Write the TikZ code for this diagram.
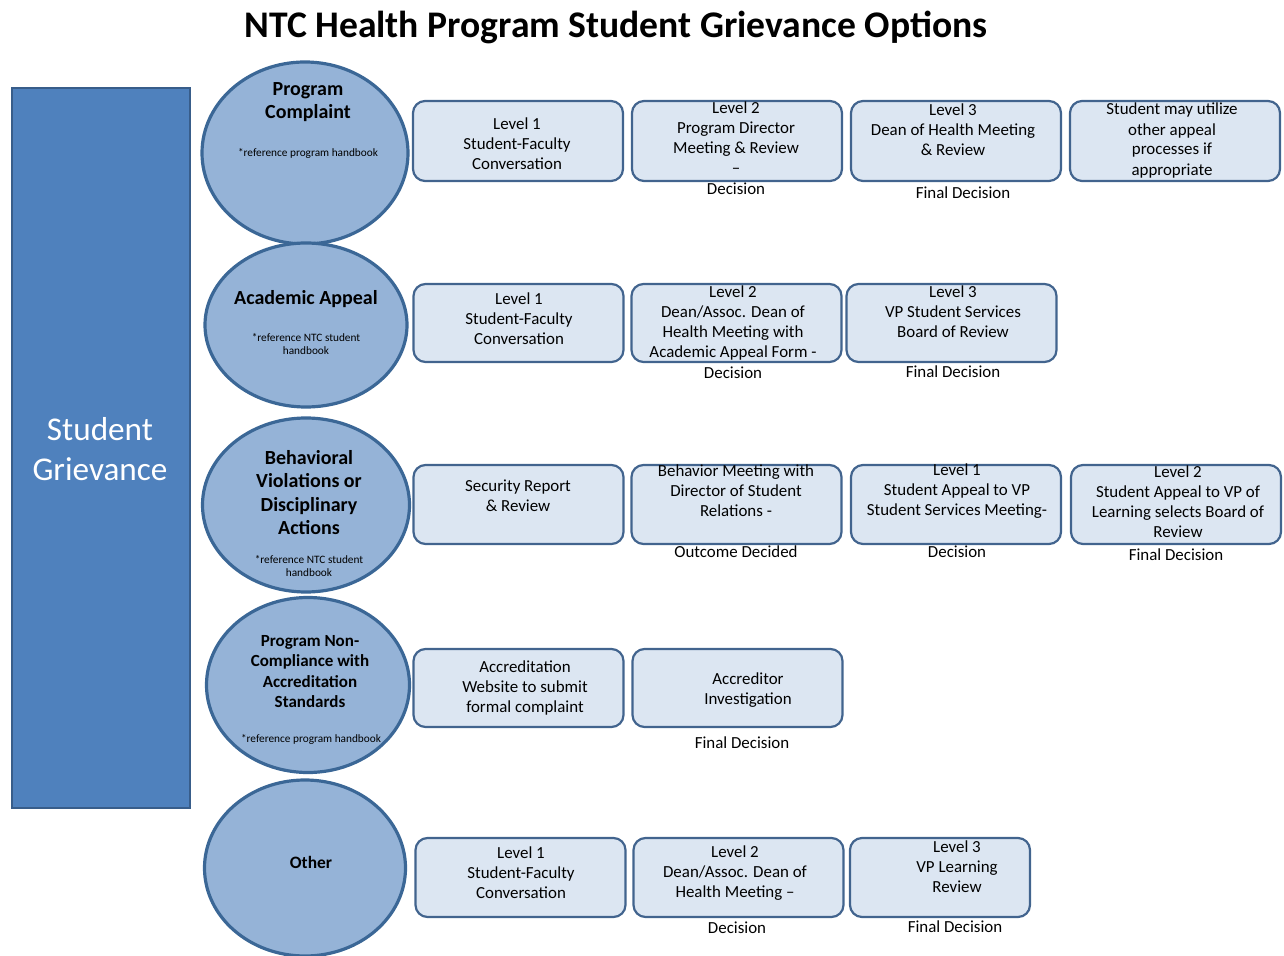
\documentclass[tikz,border=0pt]{standalone}
\usepackage{fontspec}
\setmainfont{Carlito}
\usetikzlibrary{shapes.geometric}
\definecolor{bigfill}{RGB}{79,129,189}
\definecolor{bigline}{RGB}{56,93,138}
\definecolor{circfill}{RGB}{149,179,215}
\definecolor{circline}{RGB}{59,103,150}
\definecolor{boxfill}{RGB}{220,230,242}
\definecolor{boxline}{RGB}{66,100,142}
\begin{document}
\begin{tikzpicture}[x=0.5pt,y=-0.5pt,
  circ/.style={ellipse, draw=circline, fill=circfill, line width=1.6pt, inner sep=0pt},
  stepbox/.style={draw=boxline, fill=boxfill, rounded corners=6pt, line width=1.1pt, inner sep=0pt, minimum width=105pt},
  txt/.style={align=center, inner sep=0pt, font=\fontsize{8.45}{10}\selectfont},
  ctitle/.style={align=center, inner sep=0pt, font=\fontsize{10}{11.5}\selectfont\bfseries},
  cref/.style={align=center, inner sep=0pt, font=\fontsize{5.65}{6.5}\selectfont},
  note/.style={inner sep=0pt, font=\fontsize{8.45}{10}\selectfont}]
\useasboundingbox (0,0) rectangle (1284,956);

% title
\node[inner sep=0pt, font=\fontsize{18.8}{22}\selectfont\bfseries] (title) at (616,27) {NTC Health Program Student Grievance Options};

% left bar
\node[draw=bigline, fill=bigfill, line width=0.9pt, minimum width=89pt, minimum height=360pt, inner sep=0pt] (sg) at (101,448) {};
\node[align=center, inner sep=0pt, text=white, font=\fontsize{16.6}{20}\selectfont] (sgt) at (100,449) {Student\\Grievance};

% circles
\node[circ, minimum width=103pt, minimum height=91pt] (c1) at (305,153) {};
\node[circ, minimum width=101pt, minimum height=82pt] (c2) at (306,325) {};
\node[circ, minimum width=103.5pt, minimum height=87pt] (c3) at (306,505) {};
\node[circ, minimum width=101.5pt, minimum height=87.5pt] (c4) at (308,685) {};
\node[circ, minimum width=100.5pt, minimum height=88pt] (c5) at (305,868) {};

\node[ctitle] (c1t) at (308,102.5) {Program\\Complaint};
\node[cref] (c1r) at (308,153) {*reference program handbook};
\node[ctitle] (c2t) at (306,299) {Academic Appeal};
\node[cref] (c2r) at (306,344.5) {*reference NTC student\\handbook};
\node[ctitle, font=\fontsize{10}{11.8}\selectfont\bfseries] (c3t) at (309,492.5) {Behavioral\\Violations or\\Disciplinary\\Actions};
\node[cref] (c3r) at (309,566.5) {*reference NTC student\\handbook};
\node[ctitle, font=\fontsize{8.5}{10.2}\selectfont\bfseries] (c4t) at (310,671.5) {Program Non-\\Compliance with\\Accreditation\\Standards};
\node[cref] (c4r) at (311,739) {*reference program handbook};
\node[ctitle, font=\fontsize{8.7}{10.2}\selectfont\bfseries] (c5t) at (311,862) {Other};

% row 1
\node[stepbox, minimum height=40pt] (b11) at (518,141) {};
\node[stepbox, minimum height=40pt] (b12) at (737,141) {};
\node[stepbox, minimum height=40pt] (b13) at (956,141) {};
\node[stepbox, minimum height=40pt] (b14) at (1175,141) {};
\node[txt] (t11) at (517,143.5) {Level 1\\Student-Faculty\\Conversation};
\node[txt] (t12) at (736,138) {Level 2\\Program Director\\Meeting \& Review\\–};
\node[note] (n12) at (736,189) {Decision};
\node[txt] (t13) at (953,130) {Level 3\\Dean of Health Meeting\\\& Review};
\node[note] (n13) at (963,193) {Final Decision};
\node[txt] (t14) at (1172,140.5) {Student may utilize\\other appeal\\processes if\\appropriate};

% row 2
\node[stepbox, minimum height=39pt] (b21) at (518.5,323) {};
\node[stepbox, minimum height=39pt] (b22) at (736.5,323) {};
\node[stepbox, minimum height=39pt] (b23) at (951.5,323) {};
\node[txt] (t21) at (519,319) {Level 1\\Student-Faculty\\Conversation};
\node[txt] (t22) at (733,322.5) {Level 2\\Dean/Assoc. Dean of\\Health Meeting with\\Academic Appeal Form -};
\node[note] (n22) at (733,373) {Decision};
\node[txt] (t23) at (953,312) {Level 3\\VP Student Services\\Board of Review};
\node[note] (n23) at (953,372) {Final Decision};

% row 3
\node[stepbox, minimum height=39.5pt] (b31) at (518.5,504.5) {};
\node[stepbox, minimum height=39.5pt] (b32) at (736.5,504.5) {};
\node[stepbox, minimum height=39.5pt] (b33) at (956,504.5) {};
\node[stepbox, minimum height=39.5pt] (b34) at (1176,504.5) {};
\node[txt] (t31) at (518,496) {Security Report\\\& Review};
\node[txt] (t32) at (736,491) {Behavior Meeting with\\Director of Student\\Relations -};
\node[note] (n32) at (736,552) {Outcome Decided};
\node[txt] (t33) at (957,491) {Level 1\\Student Appeal to VP\\Student Services Meeting-};
\node[note] (n33) at (957,552) {Decision};
\node[txt] (t34) at (1178,501.5) {Level 2\\Student Appeal to VP of\\Learning selects Board of\\Review};
\node[note] (n34) at (1176,555) {Final Decision};

% row 4
\node[stepbox, minimum height=39pt] (b41) at (518.5,688) {};
\node[stepbox, minimum height=39pt] (b42) at (737.5,688) {};
\node[txt] (t41) at (525,688) {Accreditation\\Website to submit\\formal complaint};
\node[txt] (t42) at (748,690) {Accreditor\\Investigation};
\node[note] (n42) at (742,743) {Final Decision};

% row 5
\node[stepbox, minimum height=39.5pt] (b51) at (520.5,877.5) {};
\node[stepbox, minimum height=39.5pt] (b52) at (738.5,877.5) {};
\node[stepbox, minimum height=39.5pt, minimum width=90pt] (b53) at (940,877.5) {};
\node[txt] (t51) at (521,873) {Level 1\\Student-Faculty\\Conversation};
\node[txt] (t52) at (735,873) {Level 2\\Dean/Assoc. Dean of\\Health Meeting –};
\node[note] (n52) at (737,928) {Decision};
\node[txt] (t53) at (957,867) {Level 3\\VP Learning\\Review};
\node[note] (n53) at (955,927) {Final Decision};
\end{tikzpicture}
\end{document}
